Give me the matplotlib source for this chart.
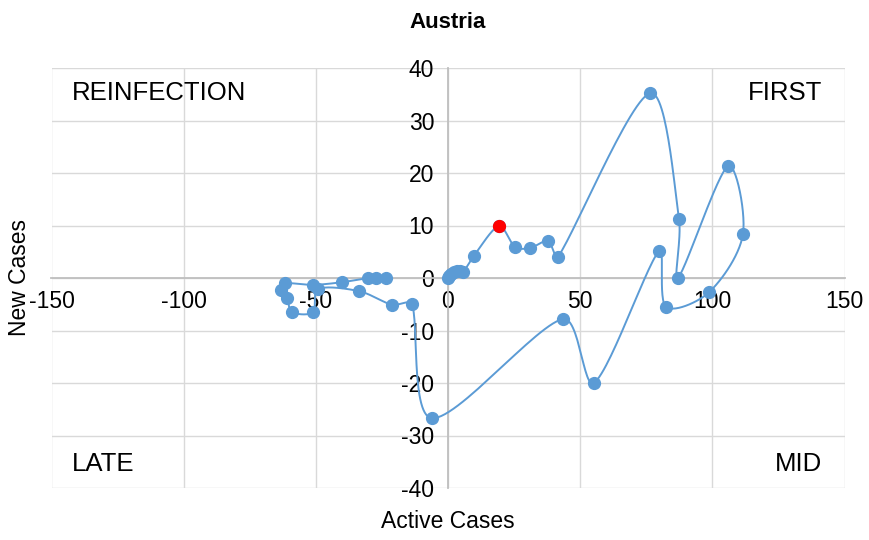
"""
Austria: new cases vs active cases (phase diagram, Excel-style smoothed scatter).
"""

import numpy as np
import matplotlib.pyplot as plt

plt.rcParams['font.family'] = ['Liberation Sans', 'DejaVu Sans']
plt.rcParams['axes.unicode_minus'] = False

# Trajectory in time order
active_cases = [0, 0.4, 1.1, 2.3, 3.4, 4.5, 5.7, 9.8, 19.3, 25.3, 31.0, 37.8, 41.6,
                76.4, 87.4, 87.0, 105.9, 111.6, 98.8, 82.5, 79.8, 55.2, 43.5,
                -6.1, -13.6, -21.2, -33.7, -49.2, -51.1, -59.0, -60.9, -63.2,
                -61.7, -51.1, -40.1, -30.3, -27.2, -23.5]
new_cases = [0, 0.4, 0.8, 1.1, 1.3, 1.3, 1.1, 4.2, 9.9, 5.9, 5.7, 7.0, 4.0,
             35.2, 11.2, 0, 21.3, 8.4, -2.7, -5.5, 5.1, -20.0, -7.8,
             -26.7, -5.0, -5.1, -2.5, -2.1, -6.5, -6.5, -3.8, -2.3,
             -1.0, -1.3, -0.8, 0, 0, 0]

# highlighted point
highlight_x = [19.3]
highlight_y = [9.9]

quadrants = ['REINFECTION', 'FIRST', 'LATE', 'MID']

BLUE = '#5B9BD5'


def smooth_path(xs, ys, sx, sy, n=30):
    """Bezier smoothing like Excel, computed in pixel space.
    Control arms are shortened next to short segments to avoid overshoot."""
    p = np.column_stack([np.array(xs) * sx, np.array(ys) * sy])
    m = len(p)
    tang = np.zeros_like(p)
    for i in range(m):
        a = p[max(i - 1, 0)]
        b = p[min(i + 1, m - 1)]
        tang[i] = (b - a) / 6
    out = []
    for i in range(m - 1):
        p1, p2 = p[i], p[i + 1]
        d12 = np.linalg.norm(p2 - p1)
        d01 = np.linalg.norm(p1 - p[i - 1]) if i > 0 else d12
        d23 = np.linalg.norm(p[i + 2] - p2) if i + 2 < m else d12
        f1 = min(1.0, 2 * d12 / (d01 + d12)) if d01 + d12 > 0 else 0
        f2 = min(1.0, 2 * d12 / (d12 + d23)) if d12 + d23 > 0 else 0
        c1 = p1 + tang[i] * f1
        c2 = p2 - tang[i + 1] * f2
        t = np.linspace(0, 1, n)[:, None]
        seg = ((1 - t) ** 3) * p1 + 3 * ((1 - t) ** 2) * t * c1 \
            + 3 * (1 - t) * t ** 2 * c2 + t ** 3 * p2
        out.append(seg if i == 0 else seg[1:])
    out = np.vstack(out)
    return out[:, 0] / sx, out[:, 1] / sy


fig = plt.figure(figsize=(8.69, 5.4), dpi=100)
ax = fig.add_axes([51.5 / 869, 1 - 488 / 540, 793 / 869, 420 / 540])

ax.set_xlim(-150, 150)
ax.set_ylim(-40, 40)
ax.set_xticks(np.arange(-150, 151, 50))
ax.set_yticks(np.arange(-40, 41, 10))

ax.grid(True, color='#d9d9d9', linewidth=1.0)
ax.set_axisbelow(True)

for side in ['top', 'right']:
    ax.spines[side].set_visible(False)
ax.spines['left'].set_position(('data', 0))
ax.spines['bottom'].set_position(('data', 0))
for side in ['left', 'bottom']:
    ax.spines[side].set_color('#bfbfbf')
    ax.spines[side].set_linewidth(1.3)

ax.tick_params(axis='both', length=0, labelsize=16.5, colors='black')
ax.tick_params(axis='x', pad=9)
ax.tick_params(axis='y', pad=10)

sx, sy = 793 / 300, 420 / 80
lx, ly = smooth_path(active_cases, new_cases, sx, sy)
ax.plot(lx, ly, color=BLUE, linewidth=1.4, zorder=3)
ax.plot(active_cases, new_cases, 'o', color=BLUE, markersize=8.5, zorder=4)
ax.plot(highlight_x, highlight_y, 'o', color='#FF0000', markersize=8.5, zorder=5)

kw = dict(transform=ax.transAxes, fontsize=18.5, va='center')
ax.text(0.0255, 0.940, quadrants[0], ha='left', **kw)
ax.text(0.9716, 0.940, quadrants[1], ha='right', **kw)
ax.text(0.0255, 0.057, quadrants[2], ha='left', **kw)
ax.text(0.9716, 0.057, quadrants[3], ha='right', **kw)

fig.text(448 / 869, 1 - 22 / 540, 'Austria', ha='center', va='center',
         fontsize=16, fontweight='bold')
fig.text(448 / 869, 1 - 522 / 540, 'Active Cases', ha='center', va='center',
         fontsize=16.5)
fig.text(20 / 869, 1 - 278 / 540, 'New Cases', ha='center', va='center',
         fontsize=16.5, rotation=90)

fig.savefig('out.png', dpi=100)
